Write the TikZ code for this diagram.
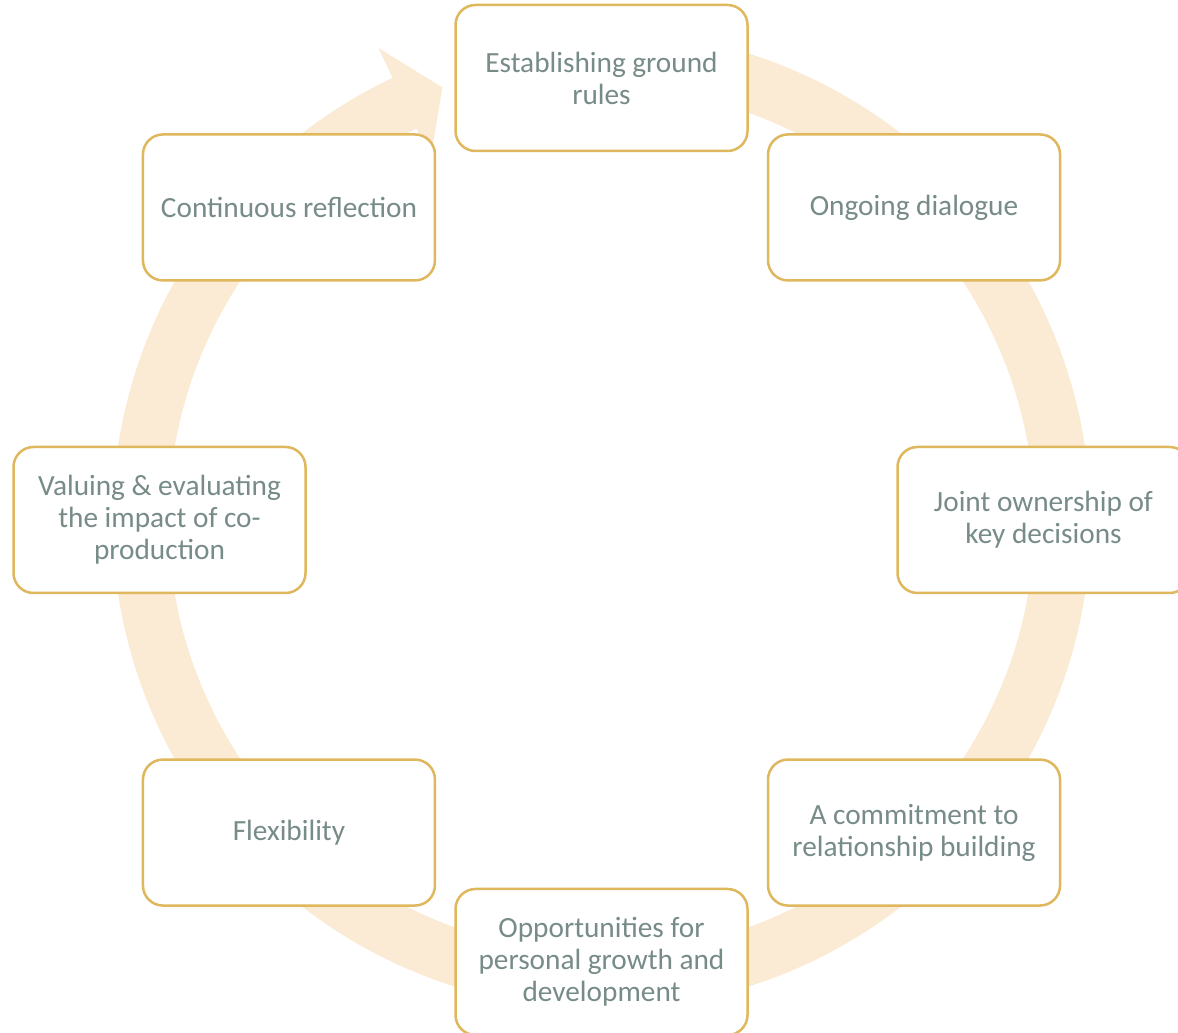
\documentclass[tikz,border=0pt]{standalone}
\usepackage{fontspec}
\setmainfont{Carlito}
\definecolor{boxc}{HTML}{DFB75C}
\definecolor{ringc}{HTML}{FBEAD4}
\definecolor{txt}{HTML}{778B89}
\begin{document}
\begin{tikzpicture}[x=1pt,y=1pt,
  box/.style={draw=boxc, line width=2.5pt, fill=white, rounded corners=20pt,
    minimum width=292pt, minimum height=146pt, align=center, text=txt,
    font=\fontsize{29.3}{32}\selectfont, inner sep=0pt}]
\useasboundingbox (0,0) rectangle (1178,1033);
\clip (0,0) rectangle (1178,1033);
\coordinate (C) at (601.5,513);
\fill[ringc] ([shift={(100:489)}]C) arc[start angle=100, end angle=-244.7, radius=489]
  -- ([shift={(115.3:522)}]C) -- ([shift={(110.2:461)}]C) -- ([shift={(115.3:400)}]C)
  -- ([shift={(-244.7:433)}]C) arc[start angle=-244.7, end angle=100, radius=433] -- cycle;
\node[box] (n1) at ([shift={(90:442)}]C) {Establishing ground\\rules};
\node[box] (n2) at ([shift={(45:442)}]C) {Ongoing dialogue};
\node[box] (n3) at ([shift={(0:442)}]C) {Joint ownership of\\key decisions};
\node[box] (n4) at ([shift={(-45:442)}]C) {A commitment to\\relationship building};
\node[box] (n5) at ([shift={(-90:442)}]C) {Opportunities for\\personal growth and\\development};
\node[box] (n6) at ([shift={(-135:442)}]C) {Flexibility};
\node[box] (n7) at ([shift={(180:442)}]C) {Valuing \& evaluating\\the impact of co-\\production};
\node[box] (n8) at ([shift={(135:442)}]C) {Continuous reflection};
\end{tikzpicture}
\end{document}
